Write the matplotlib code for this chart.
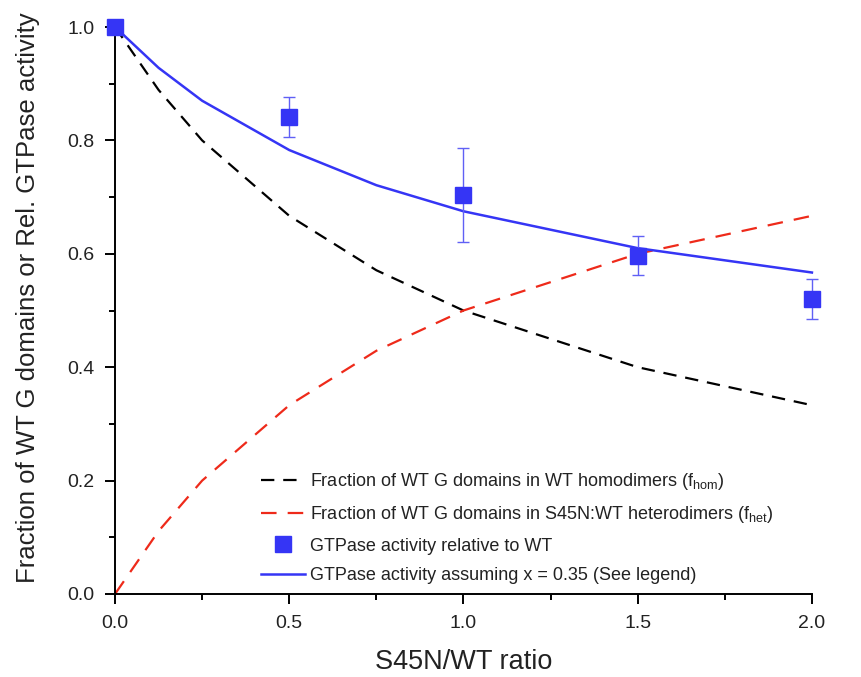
import matplotlib
matplotlib.use("Agg")
import matplotlib.pyplot as plt
from matplotlib.ticker import MultipleLocator, FormatStrFormatter

plt.rcParams['font.family'] = ['Liberation Sans', 'DejaVu Sans']
plt.rcParams['mathtext.fontset'] = 'custom'
plt.rcParams['mathtext.rm'] = 'Liberation Sans'

# Data
ratio_curve = [0, 0.125, 0.25, 0.5, 0.75, 1.0, 1.5, 2.0]
f_hom = [1.0, 0.889, 0.8, 0.667, 0.571, 0.5, 0.4, 0.333]
f_het = [0.0, 0.111, 0.2, 0.333, 0.429, 0.5, 0.6, 0.667]
activity_model = [1.0, 0.928, 0.87, 0.783, 0.721, 0.675, 0.61, 0.567]

ratio_meas = [0.0, 0.5, 1.0, 1.5, 2.0]
activity_meas = [1.0, 0.841, 0.703, 0.597, 0.52]
activity_err = [0.0, 0.035, 0.083, 0.035, 0.035]

labels = [
    r'Fraction of WT G domains in WT homodimers (f$_\mathregular{hom}$)',
    r'Fraction of WT G domains in S45N:WT heterodimers (f$_\mathregular{het}$)',
    'GTPase activity relative to WT',
    'GTPase activity assuming x = 0.35 (See legend)',
]

blue = '#3535F5'

fig = plt.figure(figsize=(8.61, 6.77), dpi=100)
ax = fig.add_axes([0.1336, 0.1226, 0.8094, 0.8375])

l1, = ax.plot(ratio_curve, f_hom, color='black', lw=1.6, dashes=(6, 4), clip_on=False, zorder=2)
l2, = ax.plot(ratio_curve, f_het, color='#EE2A1A', lw=1.6, dashes=(7, 5), clip_on=False, zorder=2)
l4, = ax.plot(ratio_curve, activity_model, color=blue, lw=1.8, clip_on=False, zorder=3)
ax.errorbar(ratio_meas, activity_meas, yerr=activity_err, fmt='none', ecolor='#6060F5',
            elinewidth=1.0, capsize=4, capthick=1.0, clip_on=False, zorder=4)
l3, = ax.plot(ratio_meas, activity_meas, 's', color=blue, ms=11, clip_on=False, zorder=5, ls='none')

ax.set_xlim(0, 2.0)
ax.set_ylim(0, 1.0)
ax.xaxis.set_major_locator(MultipleLocator(0.5))
ax.xaxis.set_minor_locator(MultipleLocator(0.25))
ax.yaxis.set_major_locator(MultipleLocator(0.2))
ax.yaxis.set_minor_locator(MultipleLocator(0.1))
ax.xaxis.set_major_formatter(FormatStrFormatter('%.1f'))
ax.yaxis.set_major_formatter(FormatStrFormatter('%.1f'))

for s in ['top', 'right']:
    ax.spines[s].set_visible(False)
for s in ['left', 'bottom']:
    ax.spines[s].set_linewidth(1.4)

ax.tick_params(which='major', direction='out', length=7, width=1.4, labelsize=14, pad=8,
               labelcolor='#222222')
ax.tick_params(which='minor', direction='out', length=4.5, width=1.4)

ax.set_xlabel('S45N/WT ratio', fontsize=19.5, color='#222222')
ax.set_ylabel('Fraction of WT G domains or Rel. GTPase activity', fontsize=18.5,
              color='#222222')
ax.xaxis.set_label_coords(0.501, -0.097)
ax.yaxis.set_label_coords(-0.108, 0.522)

leg = ax.legend([l1, l2, l3, l4], labels, loc='lower right', frameon=False, fontsize=13,
                handlelength=2.4, handletextpad=0.3, labelspacing=0.68,
                bbox_to_anchor=(0.968, -0.011))
for t in leg.get_texts():
    t.set_color('#222222')

fig.savefig('out.png', dpi=100)
